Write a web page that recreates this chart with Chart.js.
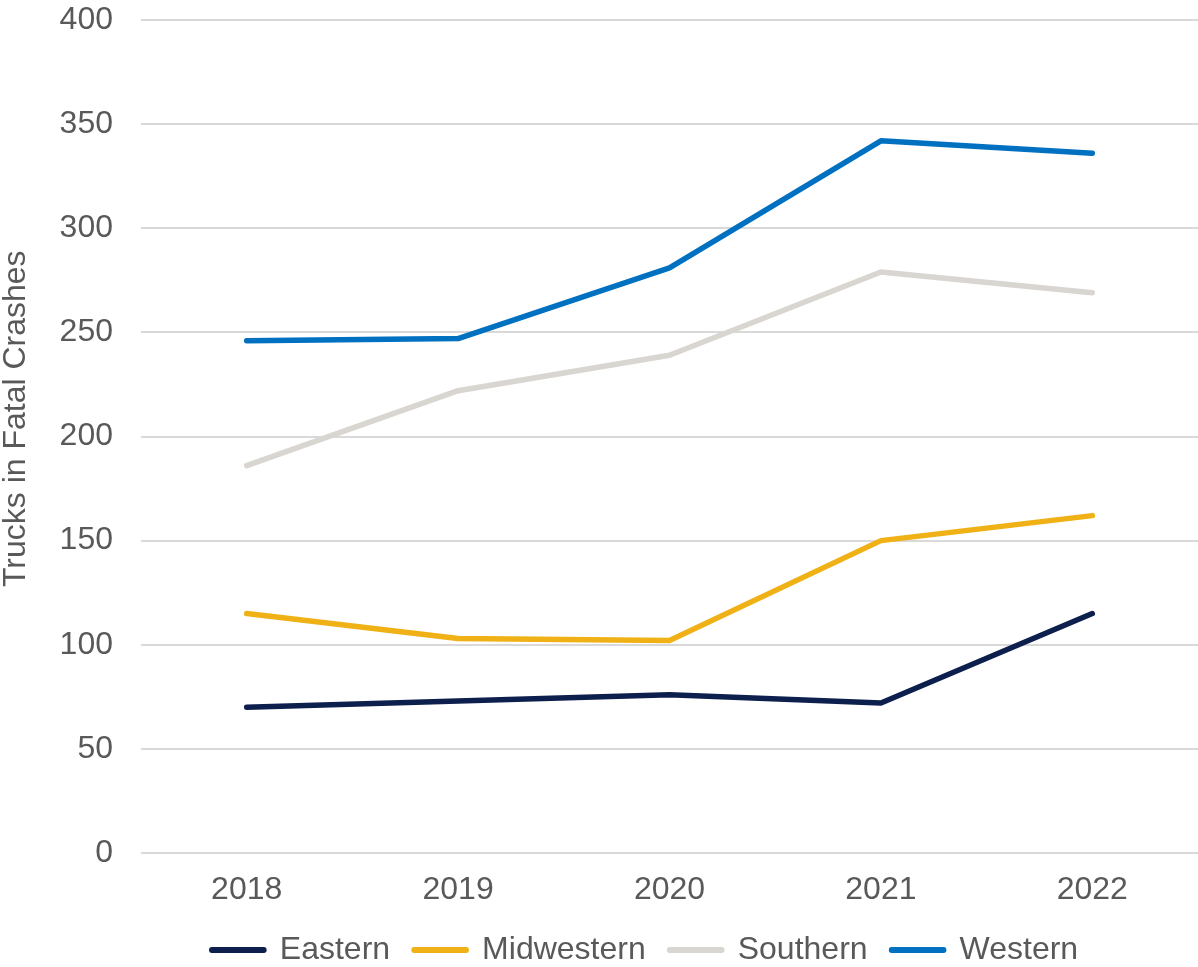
<!DOCTYPE html>
<html>
<head>
<meta charset="utf-8">
<script src="https://cdn.jsdelivr.net/npm/chart.js@4"></script>
<style>
  html, body { margin: 0; padding: 0; background: #fff; }
  #wrap { width: 1198px; height: 967px; position: relative; }
</style>
</head>
<body>
<div id="wrap"><canvas id="myChart"></canvas></div>
<script>
// DATA
var years = ['2018', '2019', '2020', '2021', '2022'];
var eastern = [70, 73, 76, 72, 115];
var midwestern = [115, 103, 102, 150, 162];
var southern = [186, 222, 239, 279, 269];
var western = [246, 247, 281, 342, 336];
var seriesNames = ['Eastern', 'Midwestern', 'Southern', 'Western'];
var seriesColors = ['#0c1f4d', '#efb116', '#d9d5d0', '#0070c0'];

var textColor = '#595959';
var fontFamily = '"Liberation Sans", Arial, sans-serif';

function makeSet(idx, values) {
    return {
        label: seriesNames[idx],
        data: values,
        borderColor: seriesColors[idx],
        backgroundColor: seriesColors[idx],
        borderWidth: 5.5,
        borderCapStyle: 'round',
        borderJoinStyle: 'round',
        pointRadius: 0,
        tension: 0
    };
}

var ctx = document.getElementById('myChart').getContext('2d');
var myChart = new Chart(ctx, {
    type: 'line',
    data: {
        labels: years,
        datasets: [
            makeSet(0, eastern),
            makeSet(1, midwestern),
            makeSet(2, southern),
            makeSet(3, western)
        ]
    },
    options: {
        responsive: true,
        maintainAspectRatio: false,
        animation: false,
        layout: { padding: { top: 20, right: 0, bottom: -9, left: 0 } },
        plugins: {
            legend: {
                position: 'bottom',
                labels: {
                    color: textColor,
                    font: { family: fontFamily, size: 32 },
                    boxWidth: 52,
                    boxHeight: 0.5,
                    padding: 24,
                    // empty spacer first, pushes the legend a bit right like the original
                    generateLabels: function(chart) {
                        var items = Chart.defaults.plugins.legend.labels.generateLabels(chart);
                        items.unshift({
                            text: '',
                            fillStyle: 'rgba(0,0,0,0)',
                            strokeStyle: 'rgba(0,0,0,0)',
                            lineWidth: 0,
                            hidden: false,
                            datasetIndex: -1
                        });
                        return items;
                    }
                }
            },
            tooltip: { enabled: false }
        },
        scales: {
            x: {
                offset: true,
                grid: { display: false, drawTicks: true, tickLength: 17 },
                border: { display: false },
                ticks: {
                    color: textColor,
                    font: { family: fontFamily, size: 32, lineHeight: 1 },
                    padding: 4
                }
            },
            y: {
                min: 0,
                max: 400,
                ticks: {
                    stepSize: 50,
                    color: textColor,
                    font: { family: fontFamily, size: 32, lineHeight: 1 },
                    padding: 0
                },
                grid: {
                    color: '#d9d9d9',
                    lineWidth: 2,
                    drawTicks: true,
                    tickLength: 28,
                    tickColor: 'rgba(0,0,0,0)'
                },
                border: { display: false },
                title: {
                    display: true,
                    text: '    Trucks in Fatal Crashes',
                    color: textColor,
                    font: { family: fontFamily, size: 32, lineHeight: 1 },
                    padding: 0
                },
                afterFit: function(scale) { scale.width = 141; }
            }
        }
    }
});
</script>
</body>
</html>
